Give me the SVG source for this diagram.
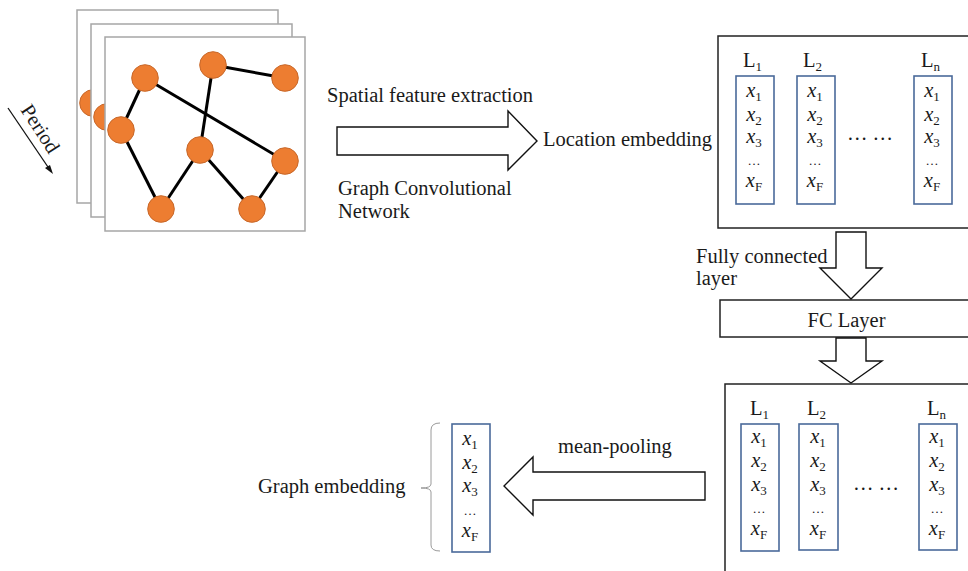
<svg xmlns="http://www.w3.org/2000/svg" width="968" height="571" viewBox="0 0 968 571">
  <style>
    text { font-family: "Liberation Serif", "Times New Roman", serif; font-size: 20.5px; fill: #1a1a1a; }
    .frame { fill: #ffffff; stroke: #a6a6a6; stroke-width: 1.5; }
    .gnode { fill: #ed7d31; stroke: #c8682a; stroke-width: 1; }
    .gedge { stroke: #000000; stroke-width: 3; fill: none; }
    .panel { fill: #ffffff; stroke: #222222; stroke-width: 1.5; }
    .col { fill: #ffffff; stroke: #4a6a9a; stroke-width: 1.6; }
    .fat { fill: #ffffff; stroke: #111111; stroke-width: 1.4; stroke-linejoin: miter; }
    .var { font-style: italic; }
    .sub { font-size: 13px; font-style: normal; }
    .ell { font-size: 13px; }
    .brace { fill: none; stroke: #9a9a9a; stroke-width: 1; }
  </style>

  <!-- stacked graph snapshots over time -->
  <g id="snapshots">
    <rect class="frame" x="77" y="10" width="201" height="193"/>
    <circle class="gnode" cx="93" cy="103" r="13.3"/>
    <rect class="frame" x="91" y="24" width="201" height="193"/>
    <circle class="gnode" cx="107" cy="117" r="13.3"/>
    <rect class="frame" x="105" y="37" width="200" height="194"/>
    <g class="gedge">
      <line x1="145" y1="78" x2="121" y2="130"/>
      <line x1="145" y1="78" x2="285" y2="161"/>
      <line x1="213" y1="65" x2="285" y2="78"/>
      <line x1="213" y1="65" x2="200" y2="150"/>
      <line x1="121" y1="130" x2="161" y2="209"/>
      <line x1="200" y1="150" x2="161" y2="209"/>
      <line x1="200" y1="150" x2="252" y2="209"/>
      <line x1="285" y1="161" x2="252" y2="209"/>
    </g>
    <circle class="gnode" cx="145" cy="78" r="13.3"/>
    <circle class="gnode" cx="213" cy="65" r="13.3"/>
    <circle class="gnode" cx="285" cy="78" r="13.3"/>
    <circle class="gnode" cx="121" cy="130" r="13.3"/>
    <circle class="gnode" cx="200" cy="150" r="13.3"/>
    <circle class="gnode" cx="285" cy="161" r="13.3"/>
    <circle class="gnode" cx="161" cy="209" r="13.3"/>
    <circle class="gnode" cx="252" cy="209" r="13.3"/>
  </g>

  <!-- time axis -->
  <g id="period">
    <line x1="8" y1="108" x2="50" y2="170" stroke="#111" stroke-width="1.3"/>
    <polygon points="53,174 45,168 50,165" fill="#111"/>
    <text transform="translate(20,110) rotate(57)" font-size="19">Period</text>
  </g>

  <!-- location embedding panel -->
  <g id="location-embedding">
    <rect class="panel" x="718" y="36" width="260" height="192"/>
    <text x="743" y="67">L<tspan class="sub" dy="4">1</tspan></text>
    <text x="803" y="67">L<tspan class="sub" dy="4">2</tspan></text>
    <text x="921" y="67">L<tspan class="sub" dy="4">n</tspan></text>
    <rect class="col" x="736" y="76" width="38" height="128"/>
    <rect class="col" x="797" y="76" width="38" height="128"/>
    <rect class="col" x="914" y="76" width="38" height="128"/>
    <g text-anchor="middle">
      <text x="754" y="97"><tspan class="var">x</tspan><tspan class="sub" dy="4">1</tspan></text>
      <text x="754" y="121"><tspan class="var">x</tspan><tspan class="sub" dy="4">2</tspan></text>
      <text x="754" y="143"><tspan class="var">x</tspan><tspan class="sub" dy="4">3</tspan></text>
      <text class="ell" x="754" y="165">…</text>
      <text x="754" y="187"><tspan class="var">x</tspan><tspan class="sub" dy="4">F</tspan></text>
      <text x="815" y="97"><tspan class="var">x</tspan><tspan class="sub" dy="4">1</tspan></text>
      <text x="815" y="121"><tspan class="var">x</tspan><tspan class="sub" dy="4">2</tspan></text>
      <text x="815" y="143"><tspan class="var">x</tspan><tspan class="sub" dy="4">3</tspan></text>
      <text class="ell" x="815" y="165">…</text>
      <text x="815" y="187"><tspan class="var">x</tspan><tspan class="sub" dy="4">F</tspan></text>
      <text x="932" y="97"><tspan class="var">x</tspan><tspan class="sub" dy="4">1</tspan></text>
      <text x="932" y="121"><tspan class="var">x</tspan><tspan class="sub" dy="4">2</tspan></text>
      <text x="932" y="143"><tspan class="var">x</tspan><tspan class="sub" dy="4">3</tspan></text>
      <text class="ell" x="932" y="165">…</text>
      <text x="932" y="187"><tspan class="var">x</tspan><tspan class="sub" dy="4">F</tspan></text>
      <text x="870" y="140" fill="#555">… …</text>
    </g>
  </g>

  <!-- fully connected layer -->
  <g id="fc-layer">
    <rect class="panel" x="720" y="300" width="260" height="37"/>
    <text x="846.5" y="327" text-anchor="middle">FC Layer</text>
  </g>

  <!-- transformed embedding panel -->
  <g id="fc-output">
    <rect class="panel" x="725" y="384" width="260" height="200"/>
    <text x="750" y="415">L<tspan class="sub" dy="4">1</tspan></text>
    <text x="807" y="415">L<tspan class="sub" dy="4">2</tspan></text>
    <text x="927" y="415">L<tspan class="sub" dy="4">n</tspan></text>
    <rect class="col" x="741" y="424" width="38" height="127"/>
    <rect class="col" x="799" y="424" width="39" height="126"/>
    <rect class="col" x="919" y="424" width="38" height="126"/>
    <g text-anchor="middle">
      <text x="759" y="443"><tspan class="var">x</tspan><tspan class="sub" dy="4">1</tspan></text>
      <text x="759" y="467"><tspan class="var">x</tspan><tspan class="sub" dy="4">2</tspan></text>
      <text x="759" y="491"><tspan class="var">x</tspan><tspan class="sub" dy="4">3</tspan></text>
      <text class="ell" x="759" y="513">…</text>
      <text x="759" y="535"><tspan class="var">x</tspan><tspan class="sub" dy="4">F</tspan></text>
      <text x="818" y="443"><tspan class="var">x</tspan><tspan class="sub" dy="4">1</tspan></text>
      <text x="818" y="467"><tspan class="var">x</tspan><tspan class="sub" dy="4">2</tspan></text>
      <text x="818" y="491"><tspan class="var">x</tspan><tspan class="sub" dy="4">3</tspan></text>
      <text class="ell" x="818" y="513">…</text>
      <text x="818" y="535"><tspan class="var">x</tspan><tspan class="sub" dy="4">F</tspan></text>
      <text x="937" y="443"><tspan class="var">x</tspan><tspan class="sub" dy="4">1</tspan></text>
      <text x="937" y="467"><tspan class="var">x</tspan><tspan class="sub" dy="4">2</tspan></text>
      <text x="937" y="491"><tspan class="var">x</tspan><tspan class="sub" dy="4">3</tspan></text>
      <text class="ell" x="937" y="513">…</text>
      <text x="937" y="535"><tspan class="var">x</tspan><tspan class="sub" dy="4">F</tspan></text>
      <text x="876" y="490" fill="#555">… …</text>
    </g>
  </g>

  <!-- pooled graph embedding -->
  <g id="graph-embedding">
    <text x="258" y="493">Graph embedding</text>
    <path class="brace" d="M440,423 Q431,423 431,430 L431,484 Q431,488 421,488 Q431,488 431,492 L431,545 Q431,551 440,551"/>
    <rect class="col" x="452" y="424" width="38" height="128"/>
    <g text-anchor="middle">
      <text x="470" y="445"><tspan class="var">x</tspan><tspan class="sub" dy="4">1</tspan></text>
      <text x="470" y="469"><tspan class="var">x</tspan><tspan class="sub" dy="4">2</tspan></text>
      <text x="470" y="492"><tspan class="var">x</tspan><tspan class="sub" dy="4">3</tspan></text>
      <text class="ell" x="470" y="515">…</text>
      <text x="470" y="537"><tspan class="var">x</tspan><tspan class="sub" dy="4">F</tspan></text>
    </g>
  </g>

  <!-- block arrows between stages -->
  <g id="connectors">
    <polygon class="fat" points="337,127 508,127 508,111 537,141 508,170 508,155 337,155"/>
    <text x="327" y="102">Spatial feature extraction</text>
    <text x="543" y="146">Location embedding</text>
    <text x="338" y="195">Graph Convolutional</text>
    <text x="338" y="218">Network</text>

    <polygon class="fat" points="836,232 866,232 866,268 882,268 851,299 820,268 836,268"/>
    <text x="696" y="263">Fully connected</text>
    <text x="696" y="285">layer</text>

    <polygon class="fat" points="836,338 866,338 866,361 882,361 851,383 820,361 836,361"/>

    <polygon class="fat" points="705,472 533,472 533,457 504,486 533,515 533,500 705,500"/>
    <text x="558" y="453">mean-pooling</text>
  </g>
</svg>
